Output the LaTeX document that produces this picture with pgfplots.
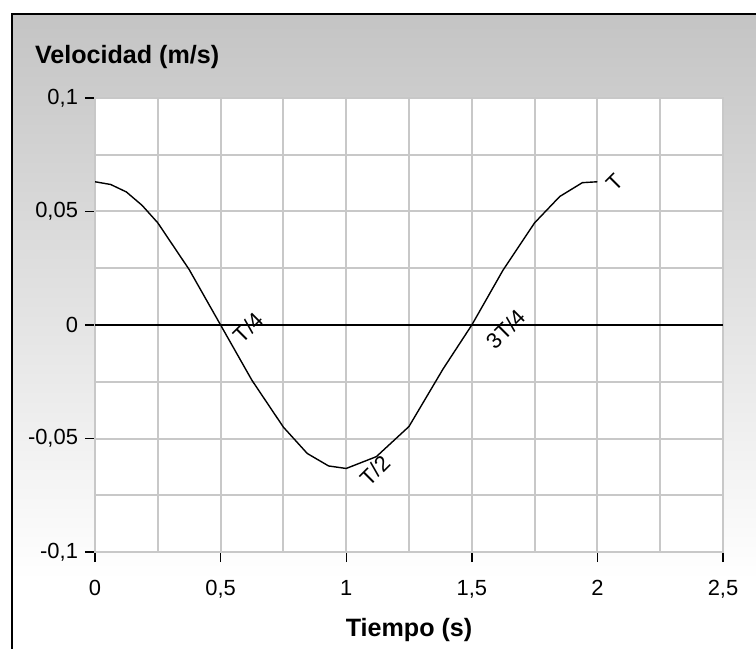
\documentclass[border=0pt]{standalone}
\usepackage{fontspec}
\setmainfont{Liberation Sans}
\usepackage{pgfplots}
\pgfplotsset{compat=1.18}
\definecolor{gridgray}{HTML}{C8C8C8}
\definecolor{bggray}{HTML}{C4C4C4}
\begin{document}
\begin{tikzpicture}
  \useasboundingbox (-47.5bp,-48.5bp) rectangle (330.5bp,276bp);
  % panel background and frame
  \begin{scope}
    \clip (-47.5bp,-48.5bp) rectangle (330.5bp,276bp);
    \fill[white] (-41.5bp,-60bp) rectangle (340bp,269bp);
    \shade[top color=bggray, bottom color=white] (-41.5bp,-14bp) rectangle (340bp,269bp);
    \draw[line width=1bp] (-41.5bp,-60bp) -- (-41.5bp,269bp) -- (340bp,269bp);
  \end{scope}
  \begin{axis}[
    scale only axis, width=314bp, height=227bp,
    xmin=0, xmax=2.5, ymin=-0.1, ymax=0.1,
    axis background/.style={fill=white},
    xtick={0,0.5,1,1.5,2,2.5},
    xticklabels={0,{0,5},1,{1,5},2,{2,5}},
    minor xtick={0.25,0.75,1.25,1.75,2.25},
    ytick={-0.1,-0.05,0,0.05,0.1},
    yticklabels={{-0,1},{-0,05},0,{0,05},{0,1}},
    minor ytick={-0.075,-0.025,0.025,0.075},
    grid=both,
    grid style={gridgray, line width=1bp},
    minor grid style={gridgray, line width=1bp},
    axis line style={gridgray, line width=1.2bp},
    tick align=outside, major tick length=5bp, minor tick length=0pt,
    xtick pos=bottom, ytick pos=left,
    tick style={black, line width=0.7bp},
    ticklabel style={font=\fontsize{11}{12}\selectfont},
    xticklabel style={anchor=base, yshift=-16.5bp},
    yticklabel style={anchor=east},
  ]
    \addplot[black, line width=1bp] coordinates {(0,0) (2.5,0)};
    \addplot[black, line width=0.7bp] coordinates {
      (0,0.0631) (0.0625,0.0619) (0.125,0.0586) (0.1875,0.0527) (0.25,0.0450)
      (0.375,0.0244) (0.5,0)
      (0.625,-0.0244) (0.75,-0.0450) (0.845,-0.0566) (0.93,-0.0621) (1,-0.0632)
      (1.12,-0.0580) (1.25,-0.0447) (1.386,-0.0193) (1.5,0)
      (1.625,0.0243) (1.75,0.0450) (1.85,0.0566) (1.94,0.0627) (2,0.0631)};
    \node[rotate=45, font=\fontsize{11}{12}\selectfont] at (axis cs:0.61,-0.001) {T/4};
    \node[rotate=45, font=\fontsize{11}{12}\selectfont] at (axis cs:1.115,-0.064) {T/2};
    \node[rotate=45, font=\fontsize{11}{12}\selectfont] at (axis cs:1.636,-0.0018) {3T/4};
    \node[rotate=45, font=\fontsize{11}{12}\selectfont] at (axis cs:2.07,0.063) {T};
  \end{axis}
  \node[anchor=base west, font=\bfseries\fontsize{12.6}{14}\selectfont] at (-33.5bp,244bp) {Velocidad (m/s)};
  \node[anchor=base, font=\bfseries\fontsize{12.6}{14}\selectfont] at (157bp,-42bp) {Tiempo (s)};
\end{tikzpicture}
\end{document}
